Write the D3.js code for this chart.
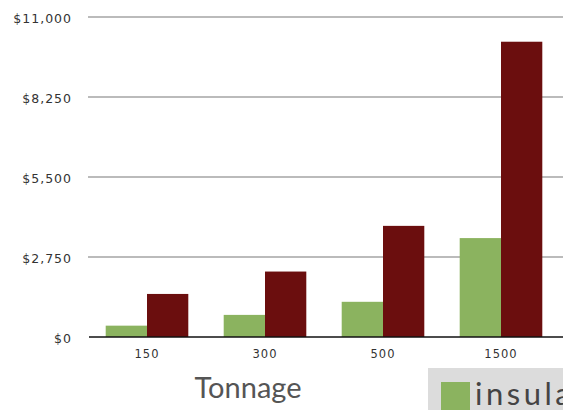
<!DOCTYPE html>
<meta charset="utf-8">
<style>
body {
  margin: 0;
  width: 563px;
  height: 410px;
  overflow: hidden;
  background: #fff;
  font-family: "Lato", "DejaVu Sans", sans-serif;
}
.grid line {
  stroke: #a5a5a5;
  stroke-width: 1.5px;
}
.tick text {
  fill: #333;
  font-family: "DejaVu Sans", sans-serif;
  letter-spacing: 1px;
}
</style>
<body>
<script src="https://d3js.org/d3.v7.min.js"></script>
<script>
var categories = ["150", "300", "500", "1500"];
var seriesNames = ["insulation", "no insulation"];
var insulated = [390, 760, 1210, 3400];
var uninsulated = [1480, 2250, 3820, 10150];
var yTicks = [0, 2750, 5500, 8250, 11000];

var width = 563,
    height = 410,
    plotLeft = 88,
    plotRight = 560,
    plotTop = 17,
    plotBottom = 337;

var svg = d3.select("body").append("svg")
    .attr("width", width)
    .attr("height", height);

var x = d3.scaleBand()
    .domain(categories)
    .range([plotLeft, plotRight])
    .paddingInner(0.3)
    .paddingOuter(0.15);

var sub = d3.scaleBand()
    .domain([0, 1])
    .range([0, x.bandwidth()]);

var y = d3.scaleLinear()
    .domain([0, 11000])
    .range([plotBottom, plotTop]);

// gridlines
svg.append("g")
    .attr("class", "grid")
    .selectAll("line")
    .data(yTicks.slice(1))
    .enter().append("line")
    .attr("x1", plotLeft)
    .attr("x2", width)
    .attr("y1", function(d) { return y(d); })
    .attr("y2", function(d) { return y(d); });

// y axis labels
var yAxis = d3.axisLeft(y)
    .tickValues(yTicks)
    .tickSize(0)
    .tickPadding(16)
    .tickFormat(function(d) { return "$" + d3.format(",")(d); });
svg.append("g")
    .attr("transform", "translate(" + plotLeft + ",1)")
    .call(yAxis)
    .call(function(g) {
      g.select(".domain").remove();
      g.selectAll("text").attr("font-size", 12.5);
    });

var colors = ["#8bb35f", "#6b0e0e"];
var series = [insulated, uninsulated];

series.forEach(function(vals, i) {
  svg.append("g")
      .attr("fill", colors[i])
      .selectAll("rect")
      .data(vals)
      .enter().append("rect")
      .attr("x", function(d, j) { return x(categories[j]) + sub(i); })
      .attr("width", sub.bandwidth())
      .attr("y", function(d) { return y(d); })
      .attr("height", function(d) { return y(0) - y(d); });
});

// baseline
svg.append("line")
    .attr("x1", plotLeft + 1)
    .attr("x2", width)
    .attr("y1", y(0))
    .attr("y2", y(0))
    .attr("stroke", "#111")
    .attr("stroke-width", 1.5);

// x axis labels
var xAxis = d3.axisBottom(x).tickSize(0).tickPadding(13);
svg.append("g")
    .attr("transform", "translate(0," + y(0) + ")")
    .call(xAxis)
    .call(function(g) {
      g.select(".domain").remove();
      g.selectAll("text").attr("font-size", 11.5);
    });

svg.append("text")
    .attr("x", 248)
    .attr("y", 398)
    .attr("text-anchor", "middle")
    .attr("fill", "#555")
    .attr("font-size", 29)
    .text("Tonnage");

// legend, cut off at right edge
var legend = svg.append("g").attr("transform", "translate(428,368)");
legend.append("rect")
    .attr("width", 140)
    .attr("height", 45)
    .attr("fill", "#dcdcdc");
legend.append("rect")
    .attr("x", 13)
    .attr("y", 14)
    .attr("width", 29)
    .attr("height", 31)
    .attr("fill", colors[0]);
legend.append("text")
    .attr("x", 47)
    .attr("y", 37)
    .attr("fill", "#444")
    .attr("font-size", 31)
    .attr("letter-spacing", 3.5)
    .text(seriesNames[0]);
</script>
</body>
